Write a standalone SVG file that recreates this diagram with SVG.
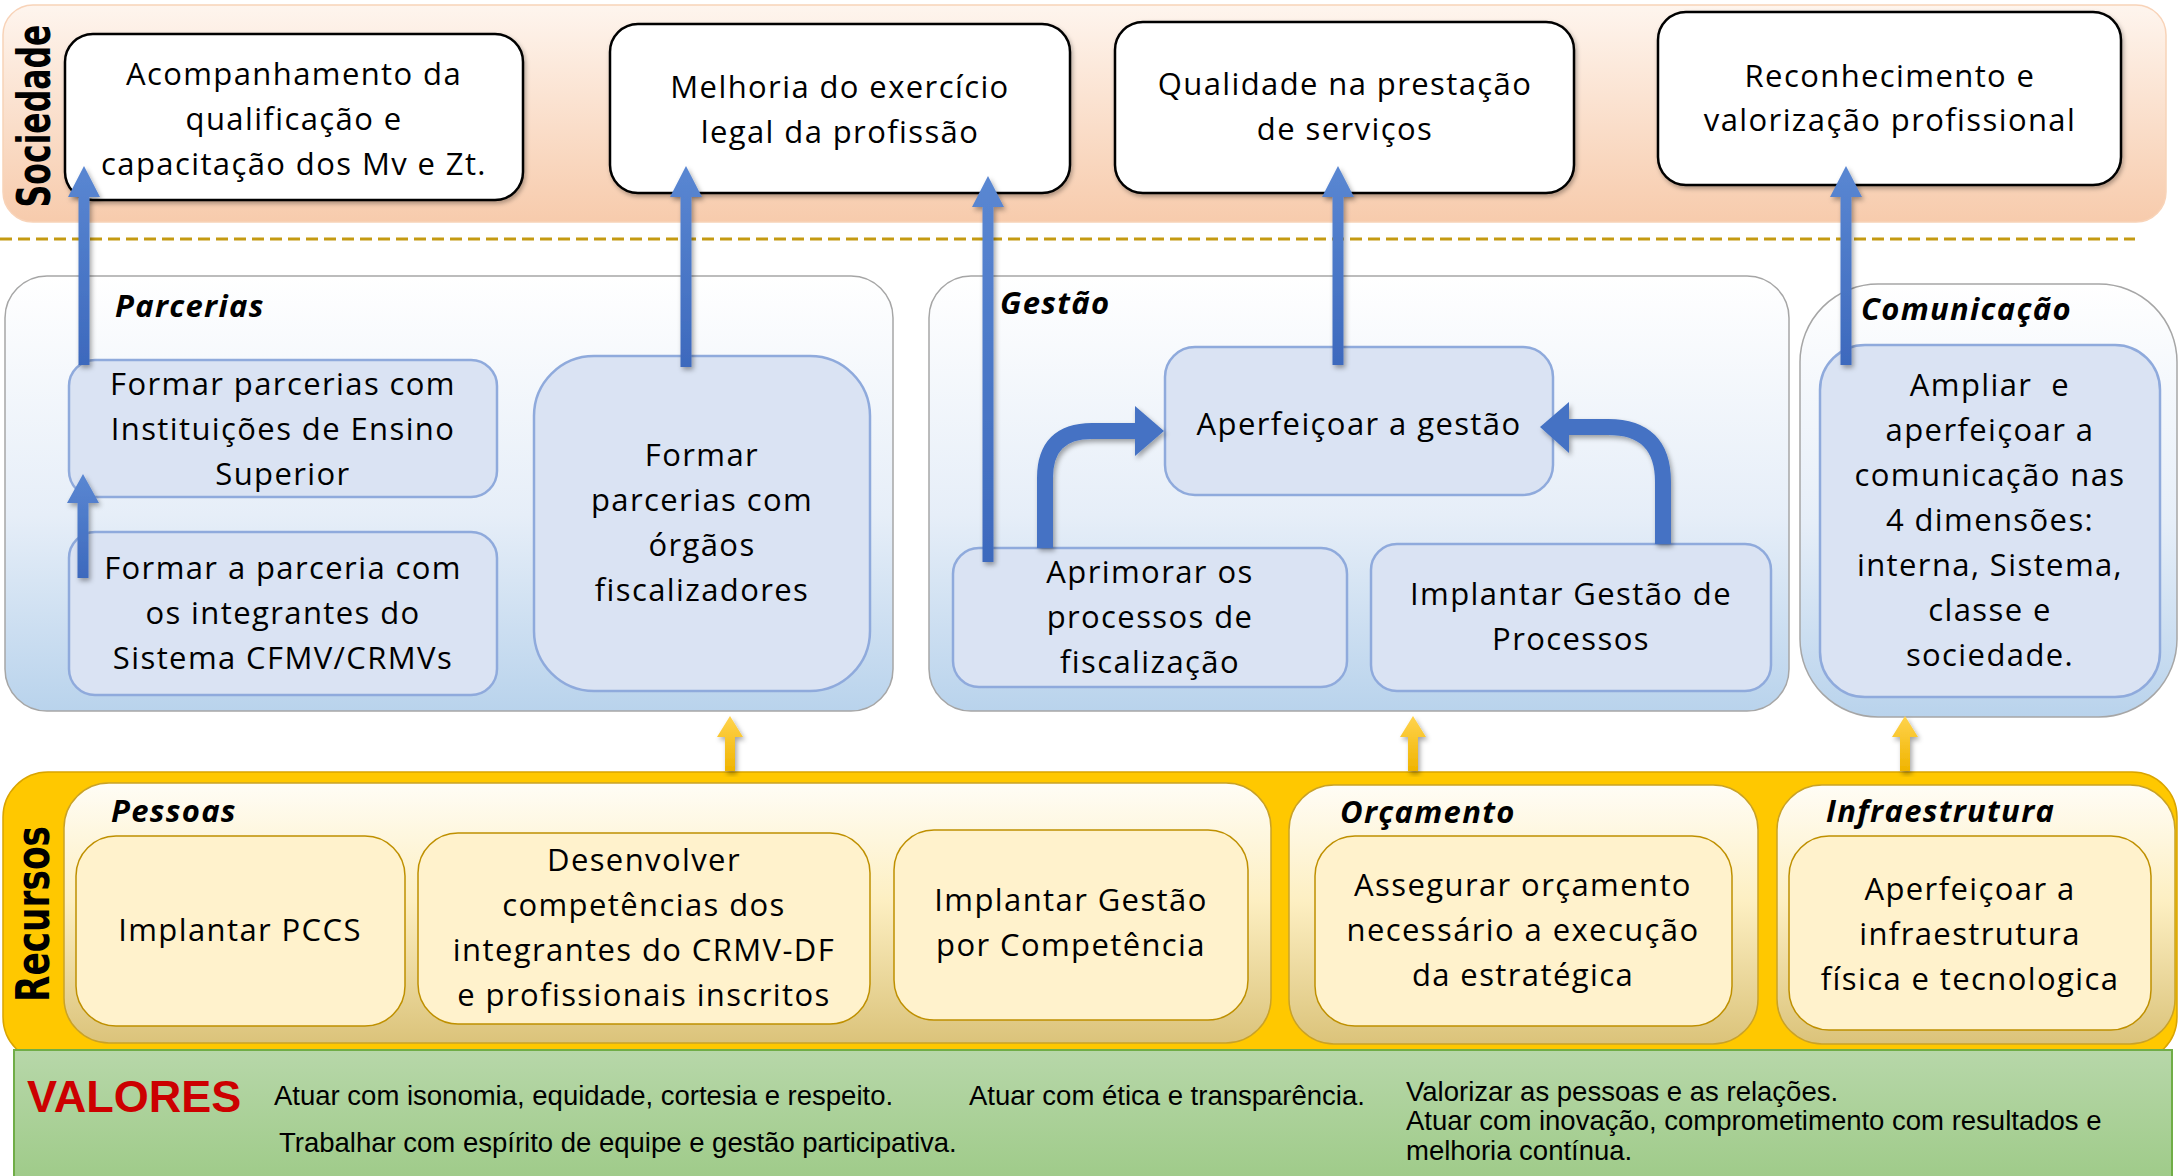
<svg xmlns="http://www.w3.org/2000/svg" width="2179" height="1176" viewBox="0 0 2179 1176">
<defs>
<linearGradient id="gSoc" x1="0" y1="0" x2="0" y2="1"><stop offset="0" stop-color="#fef5ee"/><stop offset="1" stop-color="#f7cbac"/></linearGradient>
<linearGradient id="gBlue" x1="0" y1="0" x2="0" y2="1"><stop offset="0" stop-color="#ffffff"/><stop offset="0.55" stop-color="#e6eef8"/><stop offset="1" stop-color="#b9d3ec"/></linearGradient>
<linearGradient id="gTan" x1="0" y1="0" x2="0" y2="1"><stop offset="0" stop-color="#fffdf6"/><stop offset="0.45" stop-color="#fdefc2"/><stop offset="1" stop-color="#dbc37a"/></linearGradient>
<linearGradient id="gGreen" x1="0" y1="0" x2="0" y2="1"><stop offset="0" stop-color="#b7d7a9"/><stop offset="1" stop-color="#9fcb89"/></linearGradient>
<linearGradient id="gYel" x1="0" y1="0" x2="0" y2="1"><stop offset="0" stop-color="#ffd34d"/><stop offset="1" stop-color="#f0b400"/></linearGradient>
<linearGradient id="gArr" x1="0" y1="0" x2="0" y2="1"><stop offset="0" stop-color="#5a87d2"/><stop offset="1" stop-color="#3d69bd"/></linearGradient>
<filter id="sh" x="-50%" y="-10%" width="200%" height="120%"><feDropShadow dx="2" dy="3" stdDeviation="2.5" flood-color="#000" flood-opacity="0.35"/></filter>
<filter id="sh2" x="-5%" y="-5%" width="110%" height="115%"><feDropShadow dx="1.5" dy="2.5" stdDeviation="2" flood-color="#000" flood-opacity="0.3"/></filter>
<style>
.t{font-family:"Open Sans","Liberation Sans",sans-serif;font-size:31px;letter-spacing:1.4px;text-anchor:middle;fill:#000}
.h{font-family:"Open Sans","Liberation Sans",sans-serif;font-weight:bold;font-style:italic;font-size:31px;letter-spacing:1.3px;fill:#000}
.v{font-family:"DejaVu Sans","Liberation Sans",sans-serif;font-weight:bold;font-size:46px;text-anchor:middle;fill:#000}
.val{font-family:"Liberation Sans",Arial,sans-serif;font-size:27.5px;fill:#000}
.soc{fill:#fff;stroke:#000;stroke-width:2.5}
.pb{fill:#dae3f3;stroke:#8faadc;stroke-width:2.5}
.rb{fill:#fff2cc;stroke:#bf9000;stroke-width:1.5}
.panel{fill:url(#gBlue);stroke:#a6a6a6;stroke-width:1.5}
.rpanel{fill:url(#gTan);stroke:#c9a227;stroke-width:1.5}
.ba{fill:url(#gArr);filter:url(#sh)}
.ya{fill:url(#gYel);filter:url(#sh)}
</style>
</defs>

<!-- Bands -->
<g id="band-sociedade">
<rect x="3" y="5" width="2163" height="217" rx="30" fill="url(#gSoc)" stroke="#f8d3b8" stroke-width="1.5"/>
<text class="v" transform="translate(50,116) rotate(-90) scale(0.685,1)">Sociedade</text>
</g>
<line x1="0" y1="239" x2="2135" y2="239" stroke="#c49a12" stroke-width="3" stroke-dasharray="12 6"/>

<g id="band-recursos">
<rect x="3" y="772" width="2174" height="290" rx="45" fill="#ffc800" stroke="#d9a400" stroke-width="1.5"/>
<text class="v" transform="translate(49,914) rotate(-90) scale(0.747,1)">Recursos</text>
</g>

<g id="band-valores">
<rect x="14" y="1050" width="2158" height="130" fill="url(#gGreen)" stroke="#70ad47" stroke-width="2"/>
<text x="27" y="1112" font-family="Liberation Sans, Arial, sans-serif" font-weight="bold" font-size="45" fill="#cc0000">VALORES</text>
<text class="val" x="274" y="1105">Atuar com isonomia, equidade, cortesia e respeito.</text>
<text class="val" x="969" y="1105">Atuar com ética e transparência.</text>
<text class="val" x="1406" y="1101">Valorizar as pessoas e as relações.</text>
<text class="val" x="1406" y="1130">Atuar com inovação, comprometimento com resultados e</text>
<text class="val" x="1406" y="1160">melhoria contínua.</text>
<text class="val" x="279" y="1152">Trabalhar com espírito de equipe e gestão participativa.</text>
</g>

<!-- Processos label -->
<g id="label-processos">
<text class="v" transform="translate(48,468) rotate(-90) scale(0.742,1)">Processos</text>
</g>

<!-- Processos panels -->
<g id="panel-parcerias">
<rect class="panel" x="5" y="276" width="888" height="435" rx="42"/>
<text class="h" x="115" y="317">Parcerias</text>
</g>
<g id="panel-gestao">
<rect class="panel" x="929" y="276" width="860" height="435" rx="42"/>
<text class="h" x="1000" y="314">Gestão</text>
</g>
<g id="panel-comunicacao">
<rect class="panel" x="1800" y="284" width="377" height="433" rx="78"/>
<text class="h" x="1861" y="320">Comunicação</text>
</g>

<!-- Recursos panels -->
<g id="panel-pessoas">
<rect class="rpanel" x="64" y="783" width="1207" height="260" rx="45"/>
<text class="h" x="111" y="822">Pessoas</text>
</g>
<g id="panel-orcamento">
<rect class="rpanel" x="1289" y="785" width="469" height="259" rx="45"/>
<text class="h" x="1340" y="823">Orçamento</text>
</g>
<g id="panel-infra">
<rect class="rpanel" x="1777" y="785" width="398" height="259" rx="45"/>
<text class="h" x="1826" y="822">Infraestrutura</text>
</g>

<!-- Sociedade nodes -->
<g id="node-acompanhamento">
<rect class="soc" x="65" y="34" width="458" height="166" rx="28" filter="url(#sh2)"/>
<text class="t" x="294" y="85">Acompanhamento da</text>
<text class="t" x="294" y="130">qualificação e</text>
<text class="t" x="294" y="175">capacitação dos Mv e Zt.</text>
</g>
<g id="node-melhoria">
<rect class="soc" x="610" y="24" width="460" height="169" rx="28" filter="url(#sh2)"/>
<text class="t" x="840" y="98">Melhoria do exercício</text>
<text class="t" x="840" y="143">legal da profissão</text>
</g>
<g id="node-qualidade">
<rect class="soc" x="1115" y="22" width="459" height="171" rx="28" filter="url(#sh2)"/>
<text class="t" x="1345" y="95">Qualidade na prestação</text>
<text class="t" x="1345" y="140">de serviços</text>
</g>
<g id="node-reconhecimento">
<rect class="soc" x="1658" y="12" width="463" height="173" rx="28" filter="url(#sh2)"/>
<text class="t" x="1890" y="87">Reconhecimento e</text>
<text class="t" x="1890" y="131">valorização profissional</text>
</g>

<!-- Processos nodes -->
<g id="node-ies">
<rect class="pb" x="69" y="360" width="428" height="137" rx="26"/>
<text class="t" x="283" y="395">Formar parcerias com</text>
<text class="t" x="283" y="440">Instituições de Ensino</text>
<text class="t" x="283" y="485">Superior</text>
</g>
<g id="node-sistema">
<rect class="pb" x="69" y="532" width="428" height="163" rx="26"/>
<text class="t" x="283" y="579">Formar a parceria com</text>
<text class="t" x="283" y="624">os integrantes do</text>
<text class="t" x="283" y="669">Sistema CFMV/CRMVs</text>
</g>
<g id="node-orgaos">
<rect class="pb" x="534" y="356" width="336" height="335" rx="60"/>
<text class="t" x="702" y="466">Formar</text>
<text class="t" x="702" y="511">parcerias com</text>
<text class="t" x="702" y="556">órgãos</text>
<text class="t" x="702" y="601">fiscalizadores</text>
</g>
<g id="node-aperfeicoar-gestao">
<rect class="pb" x="1165" y="347" width="388" height="148" rx="30"/>
<text class="t" x="1359" y="435">Aperfeiçoar a gestão</text>
</g>
<g id="node-aprimorar">
<rect class="pb" x="953" y="548" width="394" height="139" rx="26"/>
<text class="t" x="1150" y="583">Aprimorar os</text>
<text class="t" x="1150" y="628">processos de</text>
<text class="t" x="1150" y="673">fiscalização</text>
</g>
<g id="node-implantar-processos">
<rect class="pb" x="1371" y="544" width="400" height="147" rx="26"/>
<text class="t" x="1571" y="605">Implantar Gestão de</text>
<text class="t" x="1571" y="650">Processos</text>
</g>
<g id="node-ampliar">
<rect class="pb" x="1820" y="345" width="340" height="352" rx="45"/>
<text class="t" x="1990" y="396" xml:space="preserve">Ampliar  e</text>
<text class="t" x="1990" y="441">aperfeiçoar a</text>
<text class="t" x="1990" y="486">comunicação nas</text>
<text class="t" x="1990" y="531">4 dimensões:</text>
<text class="t" x="1990" y="576">interna, Sistema,</text>
<text class="t" x="1990" y="621">classe e</text>
<text class="t" x="1990" y="666">sociedade.</text>
</g>

<!-- Recursos nodes -->
<g id="node-pccs">
<rect class="rb" x="76" y="836" width="329" height="190" rx="40"/>
<text class="t" x="240" y="941">Implantar PCCS</text>
</g>
<g id="node-desenvolver">
<rect class="rb" x="418" y="833" width="452" height="191" rx="40"/>
<text class="t" x="644" y="871">Desenvolver</text>
<text class="t" x="644" y="916">competências dos</text>
<text class="t" x="644" y="961">integrantes do CRMV-DF</text>
<text class="t" x="644" y="1006">e profissionais inscritos</text>
</g>
<g id="node-competencia">
<rect class="rb" x="894" y="830" width="354" height="190" rx="40"/>
<text class="t" x="1071" y="911">Implantar Gestão</text>
<text class="t" x="1071" y="956">por Competência</text>
</g>
<g id="node-orcamento">
<rect class="rb" x="1315" y="836" width="417" height="190" rx="40"/>
<text class="t" x="1523" y="896">Assegurar orçamento</text>
<text class="t" x="1523" y="941">necessário a execução</text>
<text class="t" x="1523" y="986">da estratégica</text>
</g>
<g id="node-infra">
<rect class="rb" x="1789" y="836" width="362" height="194" rx="40"/>
<text class="t" x="1970" y="900">Aperfeiçoar a</text>
<text class="t" x="1970" y="945">infraestrutura</text>
<text class="t" x="1970" y="990">física e tecnologica</text>
</g>

<!-- Connectors -->
<g id="connectors">
<path class="ba" d="M78.5,365 V197 H68 L84,166 L100,197 H89.5 V365 Z"/>
<path class="ba" d="M77.5,578 V503 H67 L83,474 L99,503 H88.5 V578 Z"/>
<path class="ba" d="M680.5,367 V197 H670 L686,166 L702,197 H691.5 V367 Z"/>
<path class="ba" d="M982.5,562 V207 H972 L988,176 L1004,207 H993.5 V562 Z"/>
<path class="ba" d="M1332.5,365 V197 H1322 L1338,166 L1354,197 H1343.5 V365 Z"/>
<path class="ba" d="M1840.5,365 V197 H1830 L1846,166 L1862,197 H1851.5 V365 Z"/>
<g filter="url(#sh)">
<path d="M1045,548 V478 Q1045,431 1092,431 H1137" fill="none" stroke="#4472c4" stroke-width="16"/>
<polygon points="1135,406 1164,431 1135,456" fill="#4472c4"/>
<path d="M1663,544 V482 Q1663,427 1608,427 H1567" fill="none" stroke="#4472c4" stroke-width="16"/>
<polygon points="1569,402 1540,427 1569,453" fill="#4472c4"/>
</g>
<path class="ya" d="M725,771 V737 H717 L730,716 L743,737 H735 V771 Z"/>
<path class="ya" d="M1408,771 V737 H1400 L1413,716 L1426,737 H1418 V771 Z"/>
<path class="ya" d="M1900,771 V737 H1892 L1905,716 L1918,737 H1910 V771 Z"/>
</g>
</svg>
